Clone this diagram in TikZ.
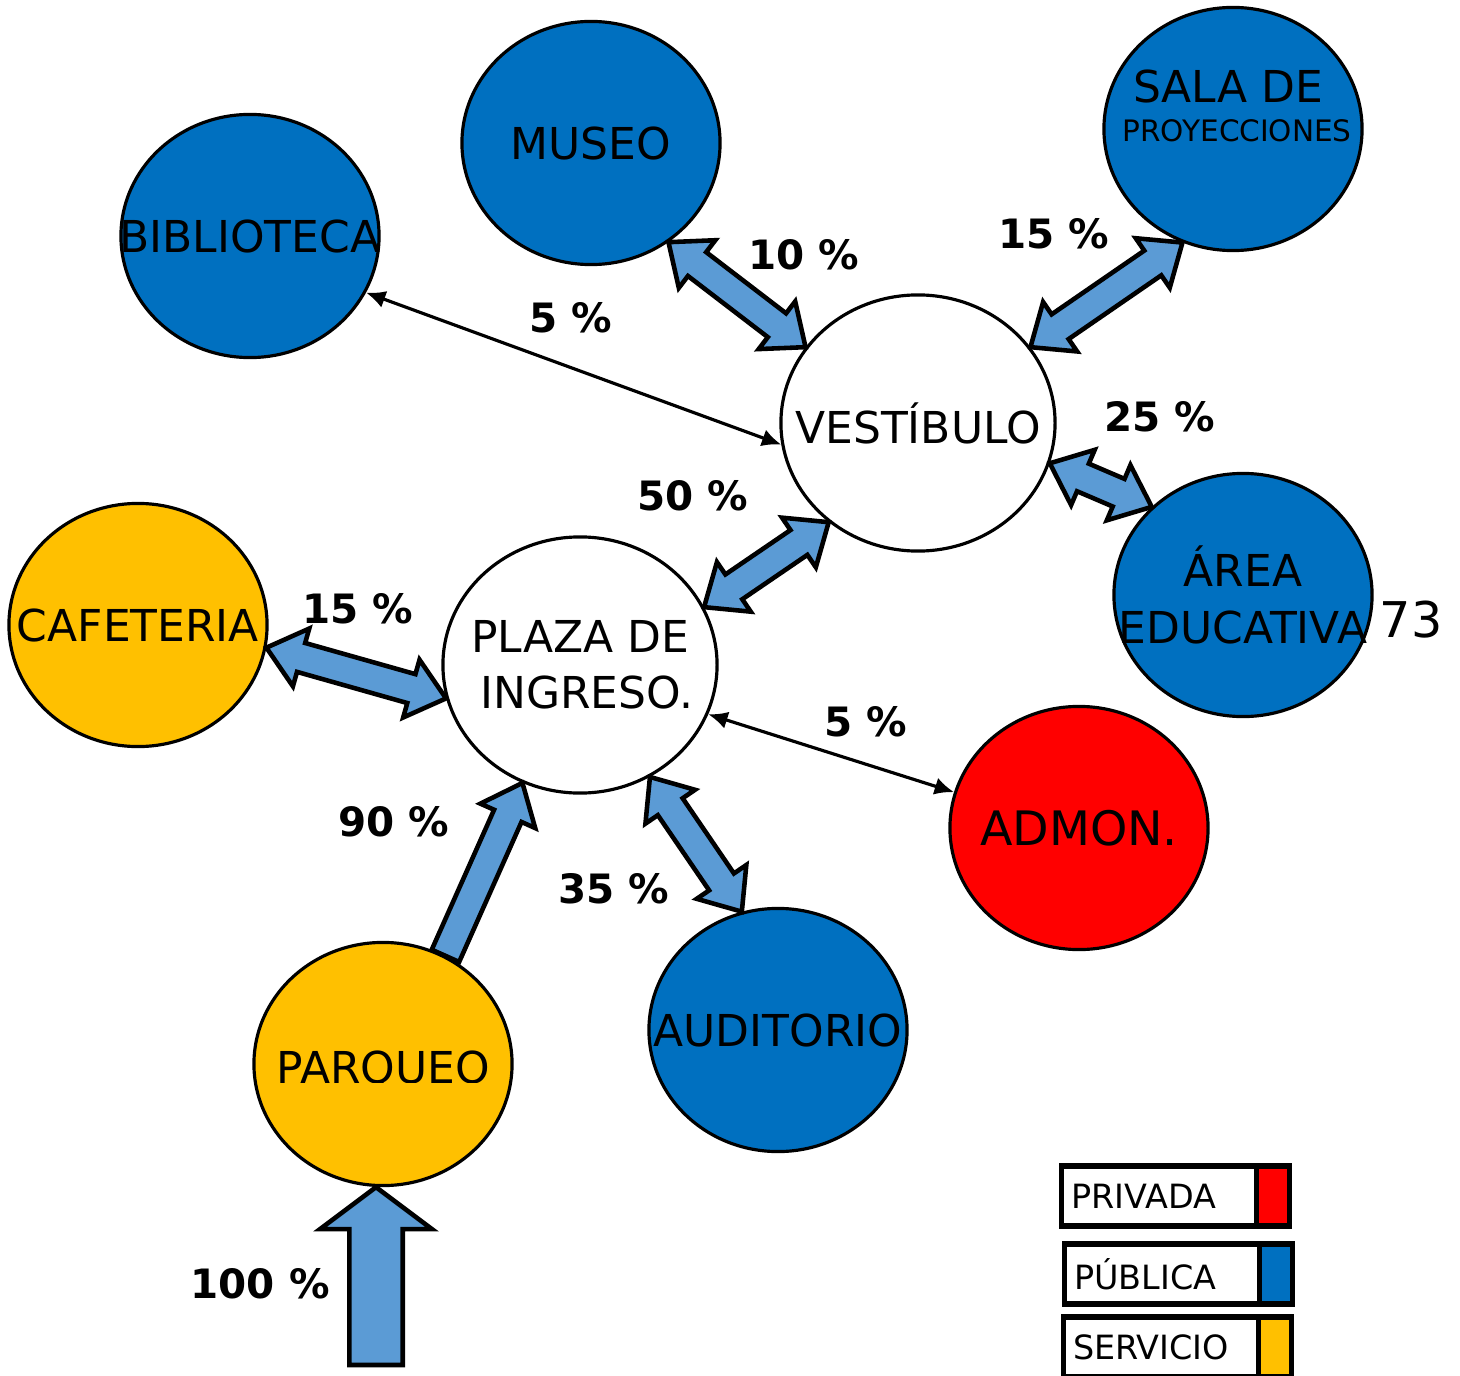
\documentclass[tikz,border=0pt]{standalone}
\usepackage{fontspec}
\setmainfont{DejaVu Sans}
\usetikzlibrary{arrows.meta,calc,positioning,shapes.geometric}
\definecolor{publicblue}{HTML}{0070C0}
\definecolor{serviceyellow}{HTML}{FFC000}
\definecolor{privatered}{HTML}{FF0000}
\definecolor{flowblue}{HTML}{5B9BD5}
\newcommand{\flowshaft}{0.15cm}
\newcommand{\flowhead}{0.3cm}
\newcommand{\flowtip}{0.36cm}
% text that does not widen its ellipse
\newcommand{\nowide}[1]{\makebox[0pt]{#1}}
% block arrow with a head at both ends
\newcommand{\twoway}[2]{%
  \path[flowarrow] (#1)
    -- ($(#1)!\flowtip!(#2)!\flowhead!90:(#2)$) -- ($(#1)!\flowtip!(#2)!\flowshaft!90:(#2)$)
    -- ($(#2)!\flowtip!(#1)!\flowshaft!-90:(#1)$) -- ($(#2)!\flowtip!(#1)!\flowhead!-90:(#1)$)
    -- (#2)
    -- ($(#2)!\flowtip!(#1)!\flowhead!90:(#1)$) -- ($(#2)!\flowtip!(#1)!\flowshaft!90:(#1)$)
    -- ($(#1)!\flowtip!(#2)!\flowshaft!-90:(#2)$) -- ($(#1)!\flowtip!(#2)!\flowhead!-90:(#2)$)
    -- cycle;}
% block arrow with one head
\newcommand{\oneway}[2]{%
  \path[flowarrow] ($(#1)!\flowshaft!90:(#2)$)
    -- ($(#2)!\flowtip!(#1)!\flowshaft!-90:(#1)$) -- ($(#2)!\flowtip!(#1)!\flowhead!-90:(#1)$)
    -- (#2)
    -- ($(#2)!\flowtip!(#1)!\flowhead!90:(#1)$) -- ($(#2)!\flowtip!(#1)!\flowshaft!90:(#1)$)
    -- ($(#1)!\flowshaft!-90:(#2)$) -- cycle;}
\tikzset{
  zone/.style={
    ellipse,
    draw=black,
    line width=0.9pt,
    minimum width=2.58cm,
    minimum height=2.43cm,
    inner sep=0pt,
    align=center,
    font=\fontsize{12.5}{16}\selectfont
  },
  zonepublic/.style={zone, fill=publicblue},
  zoneservice/.style={zone, fill=serviceyellow},
  zoneprivate/.style={zone, fill=privatered},
  hub/.style={zone, fill=white, minimum width=2.74cm, minimum height=2.56cm},
  zonetext/.style={inner sep=0pt, font=\fontsize{12.5}{16}\selectfont},
  flowarrow/.style={draw=black, fill=flowblue, line width=1.3pt, line join=miter},
  thinarrow/.style={{Latex[length=5.5pt,width=5pt]}-{Latex[length=5.5pt,width=5pt]}, line width=0.9pt},
  pct/.style={inner sep=0pt, font=\bfseries\fontsize{11.5}{14}\selectfont},
  legendbox/.style={
    draw=black,
    line width=1.5pt,
    minimum height=0.6cm,
    text width=1.755cm,
    inner xsep=0.1cm,
    align=left,
    outer sep=0pt,
    font=\fontsize{9.5}{11}\selectfont
  },
  legendswatch/.style={draw=black, line width=1.5pt, minimum height=0.6cm, minimum width=0.33cm, outer sep=0pt}
}

\begin{document}
\begin{tikzpicture}[x=0.01cm, y=-0.01cm]
  \useasboundingbox (0,0) rectangle (1460,1376);
  % zones
  \node[zonepublic] (biblioteca) at (250,236) {\nowide{BIBLIOTECA}};
  \node[zonepublic] (museo) at (591,143) {\nowide{MUSEO}};
  \node[zonepublic] (sala) at (1233,129) {};
  \node[zonetext] (salatop) at (1228,87) {SALA DE};
  \node[zonetext, font=\fontsize{8.4}{10}\selectfont] (salabottom) at (1237,131) {PROYECCIONES};
  \node[hub] (vestibulo) at (918,423) {\nowide{VESTÍBULO}};
  \node[zonepublic] (area) at (1243,595) {\nowide{ÁREA}\\\nowide{EDUCATIVA}};
  \node[zonetext, font=\fontsize{14}{16}\selectfont] (pagenum) at (1411,620) {73};
  \node[zoneservice] (cafeteria) at (138,625) {\nowide{CAFETERIA}};
  \node[hub] (plaza) at (580,665) {\nowide{PLAZA DE}\\\nowide{\ INGRESO.}};
  \node[zoneprivate, font=\fontsize{13.5}{16}\selectfont] (admon) at (1079,828) {\nowide{ADMON.}};
  \node[zonepublic] (auditorio) at (778,1030) {\nowide{AUDITORIO}};
  \node[zoneservice] (parqueo) at (383,1064) {};
  \begin{scope}
    \clip (250,940) rectangle (515,1082);
    \node[zonetext] (parqueotext) at (383,1070) {PARQUEO};
  \end{scope}
  \coordinate (entrada) at (376,1365);

  % flows
  \twoway{museo.-52}{vestibulo.146}
  \twoway{sala.246}{vestibulo.34}
  \twoway{area.136}{vestibulo.-17}
  \twoway{vestibulo.228}{plaza.25}
  \twoway{cafeteria.-10}{plaza.194}
  \oneway{parqueo.60}{plaza.244}
  \twoway{plaza.-58}{auditorio.107}
  \begin{scope}
    \renewcommand{\flowshaft}{0.267cm}
    \renewcommand{\flowhead}{0.56cm}
    \renewcommand{\flowtip}{0.42cm}
    \oneway{entrada}{entrada |- parqueo.south}
  \end{scope}
  \draw[thinarrow] (biblioteca.-26) -- (vestibulo.189);
  \draw[thinarrow] (plaza.-21) -- (admon.164);

  % percentages
  \node[pct] (p10) at (804,255) {10 \%};
  \node[pct] (p15sala) at (1054,234) {15 \%};
  \node[pct] (p5bib) at (571,318) {5 \%};
  \node[pct] (p25) at (1160,417) {25 \%};
  \node[pct] (p50) at (693,496) {50 \%};
  \node[pct] (p15caf) at (358,609) {15 \%};
  \node[pct] (p5adm) at (866,722) {5 \%};
  \node[pct] (p90) at (394,822) {90 \%};
  \node[pct] (p35) at (614,889) {35 \%};
  \node[pct] (p100) at (260,1284) {100 \%};

  % legend
  \node[legendbox] (privada) at (1159,1196) {PRIVADA};
  \node[legendswatch, fill=privatered, right=0pt of privada] (privadacolor) {};
  \node[legendbox] (publica) at (1162,1274) {PÚBLICA};
  \node[legendswatch, fill=publicblue, right=0pt of publica] (publicacolor) {};
  \node[legendbox] (servicio) at (1161,1347) {SERVICIO};
  \node[legendswatch, fill=serviceyellow, right=0pt of servicio] (serviciocolor) {};
\end{tikzpicture}
\end{document}
